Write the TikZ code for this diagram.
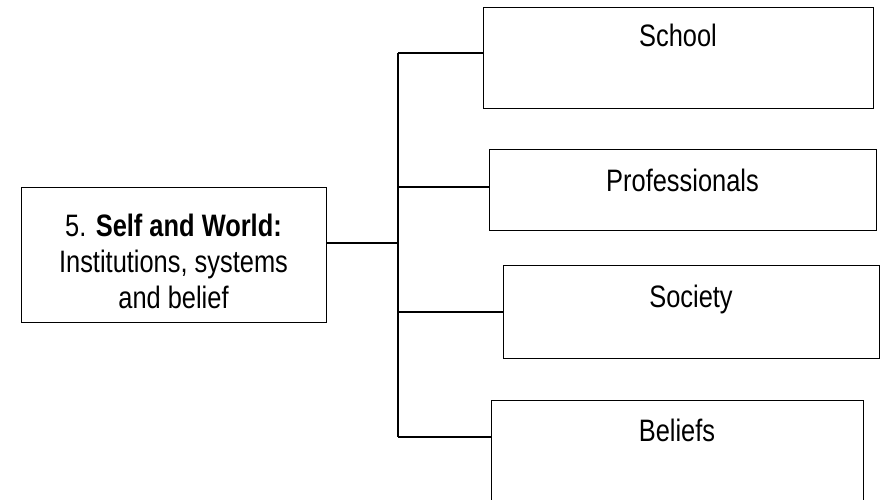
\documentclass[tikz,border=0pt]{standalone}
\usepackage{fontspec}
\setmainfont[FakeStretch=0.82]{Liberation Sans}
\begin{document}
\begin{tikzpicture}[x=1pt,y=-1pt,
  box/.style={draw, line width=1.2pt, anchor=north west, inner sep=0pt},
  lbl/.style={font=\fontsize{31}{36}\selectfont, inner sep=0pt},
  link/.style={line width=1.2pt}]
\useasboundingbox (0,0) rectangle (886,500);

% boxes
\node[box, minimum width=305pt, minimum height=135pt] (self) at (21,187) {};
\node[box, minimum width=390pt, minimum height=101pt] (school) at (483,7) {};
\node[box, minimum width=387pt, minimum height=81pt] (prof) at (489,149) {};
\node[box, minimum width=376pt, minimum height=93pt] (soc) at (503,265) {};
\node[box, minimum width=372pt, minimum height=115pt] (bel) at (491,400) {};

% labels
\node[lbl, align=center] (selftxt) at (173.5,261) {5. \textbf{Self and World:}\\Institutions, systems\\and belief};
\node[lbl, anchor=base] (schooltxt) at (678,47) {School};
\node[lbl, anchor=base] (proftxt) at (682.5,191) {Professionals};
\node[lbl, anchor=base] (soctxt) at (691,307) {Society};
\node[lbl, anchor=base] (beltxt) at (677,441) {Beliefs};

% trunk and branches
\coordinate (jschool) at (398,53);
\coordinate (jprof) at (398,187);
\coordinate (jself) at (398,243);
\coordinate (jsoc) at (398,312);
\coordinate (jbel) at (398,437);
\draw[link] (jschool) -- (jbel);
\draw[link] (self.east |- jself) -- (jself);
\draw[link] (jschool) -- (school.west |- jschool);
\draw[link] (jprof) -- (prof.west |- jprof);
\draw[link] (jsoc) -- (soc.west |- jsoc);
\draw[link] (jbel) -- (bel.west |- jbel);
\end{tikzpicture}
\end{document}
